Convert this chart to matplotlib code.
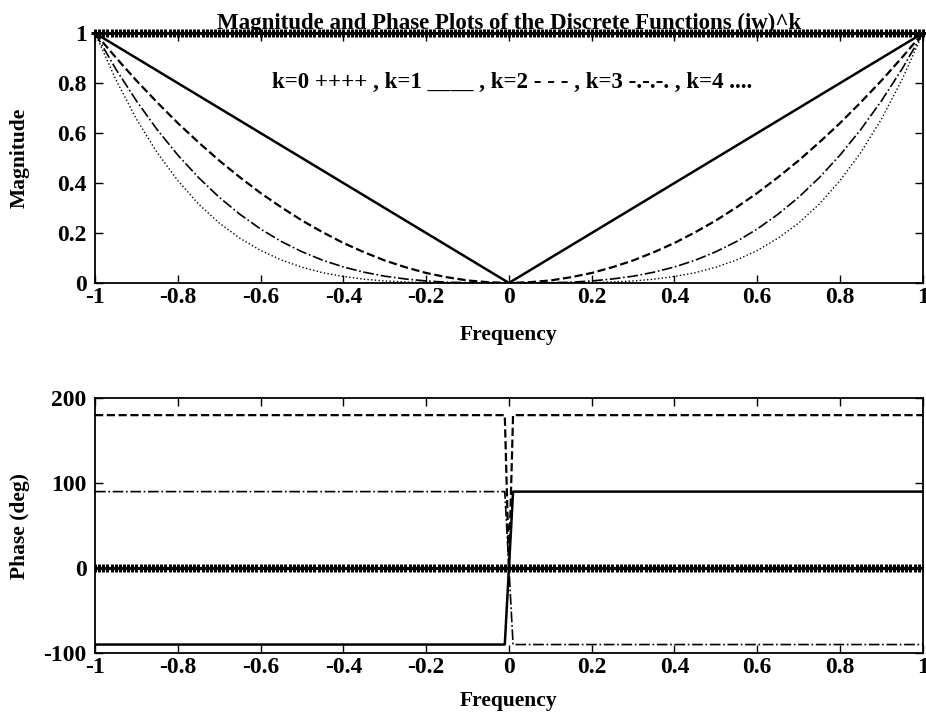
import numpy as np
import matplotlib
matplotlib.use("Agg")
import matplotlib.pyplot as plt

plt.rcParams['font.family'] = ['Liberation Serif', 'DejaVu Serif']
plt.rcParams['axes.unicode_minus'] = False

# magnitude at w = 0, 0.05, ..., 1 (curves are symmetric about w=0)
w_half = [0.0, 0.05, 0.1, 0.15, 0.2, 0.25, 0.3, 0.35, 0.4, 0.45, 0.5,
          0.55, 0.6, 0.65, 0.7, 0.75, 0.8, 0.85, 0.9, 0.95, 1.0]
mag_k1 = [0.0, 0.05, 0.1, 0.15, 0.2, 0.25, 0.3, 0.35, 0.4, 0.45, 0.5,
          0.55, 0.6, 0.65, 0.7, 0.75, 0.8, 0.85, 0.9, 0.95, 1.0]
mag_k2 = [0.0, 0.003, 0.01, 0.023, 0.04, 0.063, 0.09, 0.123, 0.16, 0.203, 0.25,
          0.303, 0.36, 0.423, 0.49, 0.563, 0.64, 0.723, 0.81, 0.903, 1.0]
mag_k3 = [0.0, 0.0001, 0.001, 0.003, 0.008, 0.016, 0.027, 0.043, 0.064, 0.091, 0.125,
          0.166, 0.216, 0.275, 0.343, 0.422, 0.512, 0.614, 0.729, 0.857, 1.0]
mag_k4 = [0.0, 0.0, 0.0001, 0.0005, 0.0016, 0.004, 0.008, 0.015, 0.026, 0.041, 0.063,
          0.092, 0.130, 0.179, 0.240, 0.316, 0.410, 0.522, 0.656, 0.815, 1.0]
mag_k0 = 1.0

# phase levels (deg) for k = 0..4 : left of 0, at 0, right of 0
phase_left = [0, -90, 180, 90, 0]
phase_zero = [0, 0, 0, 0, 0]
phase_right = [0, 90, 180, -90, 0]

freq_ticks = [-1, -0.8, -0.6, -0.4, -0.2, 0, 0.2, 0.4, 0.6, 0.8, 1]
freq_labels = ['-1', '-0.8', '-0.6', '-0.4', '-0.2', '0', '0.2', '0.4', '0.6', '0.8', '1']
mag_ticks = [0, 0.2, 0.4, 0.6, 0.8, 1]
mag_labels = ['0', '0.2', '0.4', '0.6', '0.8', '1']
phase_ticks = [-100, 0, 100, 200]

styles = ['-', '--', '-.', ':']
widths = [1.8, 1.6, 1.2, 1.0]

# full frequency axis from the half tables
w_half = np.array(w_half)
w_full = np.concatenate([-w_half[::-1], w_half[1:]])
def mirror(v):
    v = np.array(v)
    return np.concatenate([v[::-1], v[1:]])

# sample grid used by the original (201 points)
w_grid = np.linspace(-1, 1, 201)

fig = plt.figure(figsize=(9.26, 7.2), dpi=100)
ax1 = fig.add_axes([0.1026, 0.607, 0.894, 0.347])
ax2 = fig.add_axes([0.1026, 0.093, 0.894, 0.354])

# --- magnitude ---
ax1.plot(w_grid, np.full(w_grid.size, mag_k0), linestyle='none', marker='+',
         markersize=5.5, markeredgewidth=2.2, color='black', clip_on=False)
for mag, ls, lw in zip([mag_k1, mag_k2, mag_k3, mag_k4], styles, widths):
    ax1.plot(w_full, mirror(mag), ls, color='black', linewidth=lw)
ax1.text(-0.572, 0.804, 'k=0 ++++ , k=1 ____ , k=2 - - - , k=3 -.-.-. , k=4 ....',
         fontsize=16.5, fontweight='bold', va='center', ha='left')
ax1.set_xlim(-1, 1)
ax1.set_ylim(0, 1)
ax1.set_xticks(freq_ticks)
ax1.set_xticklabels(freq_labels)
ax1.set_yticks(mag_ticks)
ax1.set_yticklabels(mag_labels)
ax1.set_xlabel('Frequency', fontsize=15.5, fontweight='bold')
ax1.set_ylabel('Magnitude', fontsize=15.5, fontweight='bold')
ax1.set_title('Magnitude and Phase Plots of the Discrete Functions (iw)^k',
              fontsize=16.5, fontweight='bold', pad=3)
ax1.xaxis.set_label_coords(0.5, -0.17)
ax1.yaxis.set_label_coords(-0.079, 0.5)

# --- phase ---
n = (w_grid.size - 1) // 2
for k in range(5):
    ph = np.concatenate([np.full(n, phase_left[k]), [phase_zero[k]],
                         np.full(n, phase_right[k])])
    if k == 0:
        ax2.plot(w_grid, ph, linestyle='none', marker='+', markersize=5.5,
                 markeredgewidth=2.2, color='black')
    else:
        ax2.plot(w_grid, ph, styles[k - 1], color='black', linewidth=widths[k - 1])
ax2.set_xlim(-1, 1)
ax2.set_ylim(-100, 200)
ax2.set_xticks(freq_ticks)
ax2.set_xticklabels(freq_labels)
ax2.set_yticks(phase_ticks)
ax2.set_xlabel('Frequency', fontsize=15.5, fontweight='bold')
ax2.set_ylabel('Phase (deg)', fontsize=15.5, fontweight='bold')
ax2.xaxis.set_label_coords(0.5, -0.15)
ax2.yaxis.set_label_coords(-0.079, 0.5)

for ax in (ax1, ax2):
    ax.tick_params(direction='in', top=True, right=True, length=6, width=1,
                   labelsize=17)
    ax.tick_params(axis='x', pad=3)
    ax.tick_params(axis='y', pad=6)
    for lab in ax.get_xticklabels() + ax.get_yticklabels():
        lab.set_fontweight('bold')
    for sp in ax.spines.values():
        sp.set_linewidth(1.3)

fig.savefig('out.png', dpi=100)
